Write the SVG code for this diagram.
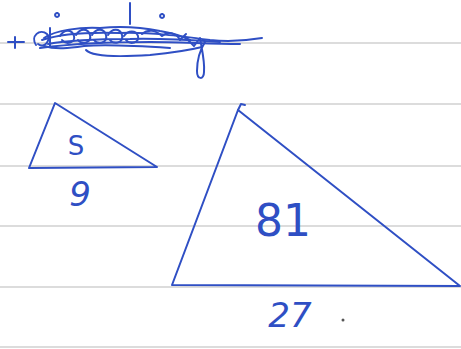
<svg xmlns="http://www.w3.org/2000/svg" width="461" height="349" viewBox="0 0 461 349">
<style>
.rule{stroke:#dcdcdc;stroke-width:2}
.ink{fill:none;stroke:#2f4fc4;stroke-width:2;stroke-linecap:round;stroke-linejoin:round}
.scr{fill:none;stroke:#2f4fc4;stroke-width:2;stroke-linecap:round;stroke-linejoin:round}
.lbl{fill:#2f4fc4;font-family:"DejaVu Sans",sans-serif}
</style>
<rect width="461" height="349" fill="#ffffff"/>
<g id="paper">
<line class="rule" x1="0" y1="43" x2="461" y2="43"/>
<line class="rule" x1="0" y1="104" x2="461" y2="104"/>
<line class="rule" x1="0" y1="166" x2="461" y2="166"/>
<line class="rule" x1="0" y1="226" x2="461" y2="226"/>
<line class="rule" x1="0" y1="287" x2="461" y2="287"/>
<line class="rule" x1="0" y1="347" x2="461" y2="347"/>
</g>
<g id="scribble">
<path class="scr" d="M8,42 L24,42 M15,37 L15,48"/>
<path class="scr" d="M36,45 C30,36 40,28 47,34 C51,40 45,49 38,44 M50,28 L50,47"/>
<path class="scr" d="M42,40 C60,34 90,32 120,33 C150,32 180,36 210,40 C230,42 250,40 262,38"/>
<path class="scr" d="M40,48 C70,44 110,42 150,42 C180,42 210,44 240,44"/>
<path class="scr" d="M44,38 C56,30 80,27 100,28 C120,26 140,27 160,31 C172,33 182,36 190,40"/>
<path class="scr" d="M60,36 C64,29 72,29 74,36 C76,43 66,45 62,40 M76,35 C80,28 88,28 90,35 C92,43 82,45 78,40 M92,35 C96,28 104,28 106,35 C108,43 98,45 94,40 M108,35 C112,28 120,28 122,35 C124,43 114,45 110,40 M124,36 C128,30 136,30 138,36 C140,43 130,45 126,40"/>
<path class="scr" d="M142,34 C148,29 156,30 162,36 C168,31 176,32 180,40 L186,34"/>
<path class="scr" d="M186,38 L194,46 L200,38 C202,50 205,62 204,72 C204,80 197,80 197,71 C197,60 200,50 205,42"/>
<path class="scr" d="M86,50 C92,57 120,57 150,55 C170,53 190,50 202,47"/>
<path class="scr" d="M48,44 C70,40 100,39 130,39 C160,38 190,40 220,42"/>
<path class="scr" d="M130,3 L130,24 M57,13 a2,2 0 1,0 0.1,0 M162,14 a2,2 0 1,0 0.1,0"/>
<path class="scr" d="M44,46 C56,50 70,48 84,46 C110,44 140,46 170,48"/>
</g>
<g id="small-triangle">
<path class="ink" d="M55,103 L29,168 L157,167 Z"/>
<text class="lbl" x="76" y="155" font-size="26" text-anchor="middle">S</text>
<text class="lbl" x="80" y="206" font-size="34" text-anchor="middle" font-style="italic">9</text>
</g>
<g id="large-triangle">
<path class="ink" d="M238,110 L172,285 L460,286 Z"/>
<path class="ink" d="M238,110 L241,104 M241,104 L245,105"/>
<text class="lbl" x="283" y="236" font-size="44" text-anchor="middle">81</text>
<text class="lbl" x="290" y="327" font-size="34" text-anchor="middle" font-style="italic">27</text>
<circle cx="343" cy="320" r="1.5" fill="#555"/>
</g>
</svg>
